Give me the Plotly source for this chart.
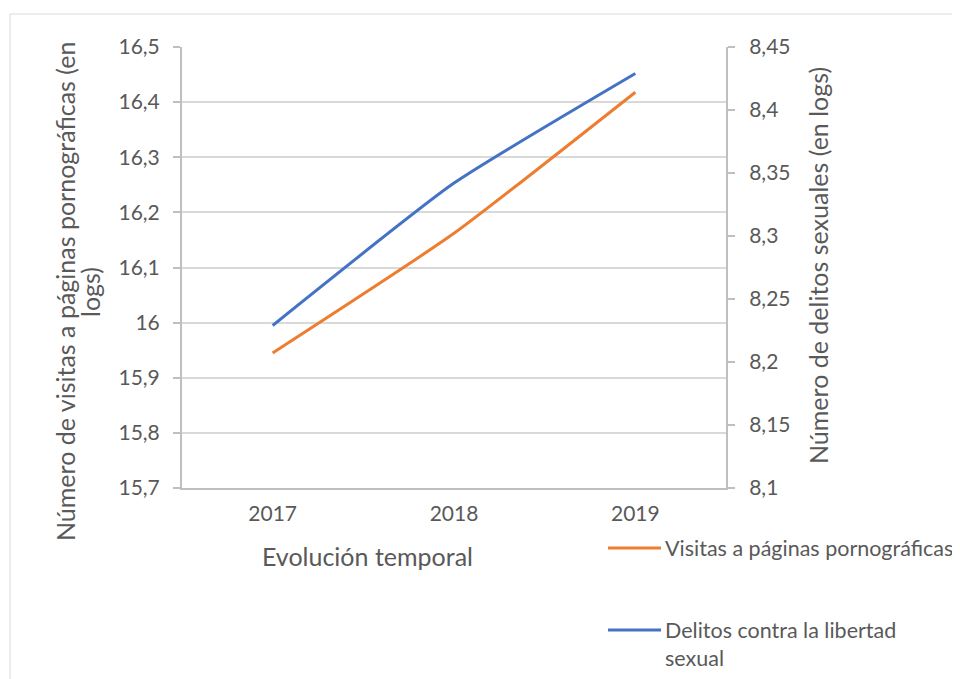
import plotly.graph_objects as go

# ---- data ----
years = ["2017", "2018", "2019"]
visitas = [15.945, 16.162, 16.418]          # left axis (logs)
delitos = [8.229, 8.342, 8.429]             # right axis (logs)
series_names = ["Visitas a páginas pornográficas", "Delitos contra la libertad sexual"]
legend_lines = [["Visitas a páginas pornográficas"], ["Delitos contra la libertad", "sexual"]]
series_colors = ["#ED7D31", "#4472C4"]

left_ticks = [15.7, 15.8, 15.9, 16.0, 16.1, 16.2, 16.3, 16.4, 16.5]
left_ticktext = ["15,7", "15,8", "15,9", "16", "16,1", "16,2", "16,3", "16,4", "16,5"]
right_ticks = [8.1, 8.15, 8.2, 8.25, 8.3, 8.35, 8.4, 8.45]
right_ticktext = ["8,1", "8,15", "8,2", "8,25", "8,3", "8,35", "8,4", "8,45"]

x_title = "Evolución temporal"
left_title_lines = ["Número de visitas a páginas pornográficas (en", "logs)"]
right_title = "Número de delitos sexuales (en logs)"

# ---- layout geometry (reference page pixels; page body has 8px margin) ----
OFF = 8
W, H = 960 - OFF, 679 - OFF
L, R, T, B = 182, 726, 47, 488          # plot area in page pixels
FONT = "Lato"
TXT = "#595959"
AX = "#bfbfbf"
GRID = "#d9d9d9"


def px(xp):
    return (xp - L) / (R - L)


def py(yp):
    return (B - yp) / (B - T)


fig = go.Figure()
fig.add_trace(go.Scatter(
    x=years, y=visitas, name=series_names[0], mode="lines",
    line=dict(color=series_colors[0], width=3, shape="spline", smoothing=0.5),
    yaxis="y", showlegend=False))
fig.add_trace(go.Scatter(
    x=years, y=delitos, name=series_names[1], mode="lines",
    line=dict(color=series_colors[1], width=3, shape="spline", smoothing=0.5),
    yaxis="y2", showlegend=False))

fig.update_layout(
    width=W, height=H,
    margin=dict(l=L - OFF, r=W - (R - OFF), t=T - OFF, b=H - (B - OFF), pad=0),
    paper_bgcolor="white", plot_bgcolor="white",
    font=dict(family=FONT, size=21, color=TXT),
    separators=",.",
    xaxis=dict(
        type="category", range=[-0.5, 2.5],
        showgrid=False, showline=True, linecolor=AX, linewidth=2,
        ticks="", tickfont=dict(size=21, color=TXT), ticklabelstandoff=6,
        zeroline=False,
    ),
    yaxis=dict(
        range=[15.7, 16.5], tickvals=left_ticks, ticktext=left_ticktext,
        showgrid=True, gridcolor=GRID, gridwidth=1.5,
        showline=True, linecolor=AX, linewidth=2,
        ticks="outside", ticklen=7, tickwidth=1.5, tickcolor=AX,
        tickfont=dict(size=21, color=TXT), zeroline=False,
        ticklabelstandoff=9,
    ),
    yaxis2=dict(
        range=[8.1, 8.45], tickvals=right_ticks, ticktext=right_ticktext,
        overlaying="y", side="right",
        showgrid=False, showline=True, linecolor=AX, linewidth=2,
        ticks="outside", ticklen=7, tickwidth=1.5, tickcolor=AX,
        tickfont=dict(size=21, color=TXT), zeroline=False,
        ticklabelstandoff=10,
    ),
    showlegend=False,
)

TITLE_SIZE = 25
annotations = [
    dict(text=x_title, x=px(367), y=py(556), xref="paper", yref="paper",
         showarrow=False, font=dict(size=TITLE_SIZE, color=TXT),
         xanchor="center", yanchor="middle"),
    dict(text=right_title, x=px(818), y=py(266), xref="paper", yref="paper",
         showarrow=False, textangle=-90, font=dict(size=TITLE_SIZE, color=TXT),
         xanchor="center", yanchor="middle"),
]
for j, t in enumerate(left_title_lines):
    annotations.append(dict(text=t, x=px(65 + 25 * j), y=py(292), xref="paper", yref="paper",
                            showarrow=False, textangle=-90,
                            font=dict(size=TITLE_SIZE, color=TXT),
                            xanchor="center", yanchor="middle"))

shapes = [
    dict(type="rect", xref="paper", yref="paper",
         x0=px(10), x1=px(1000), y0=py(14), y1=py(720),
         line=dict(color=GRID, width=1), fillcolor="rgba(0,0,0,0)", layer="below"),
]

# manual legend
LEG_SIZE = 21.5
legend_y = [548, 630]
line_gap = 28
for i, (lines, color) in enumerate(zip(legend_lines, series_colors)):
    y0 = legend_y[i]
    shapes.append(dict(type="line", xref="paper", yref="paper",
                       x0=px(608), x1=px(661), y0=py(y0), y1=py(y0),
                       line=dict(color=color, width=3)))
    for j, t in enumerate(lines):
        annotations.append(dict(text=t, x=px(663), y=py(y0 + j * line_gap),
                                xref="paper", yref="paper", showarrow=False,
                                xanchor="left", yanchor="middle",
                                font=dict(size=LEG_SIZE, color=TXT)))

fig.update_layout(annotations=annotations, shapes=shapes)
fig.write_html("out.html")
